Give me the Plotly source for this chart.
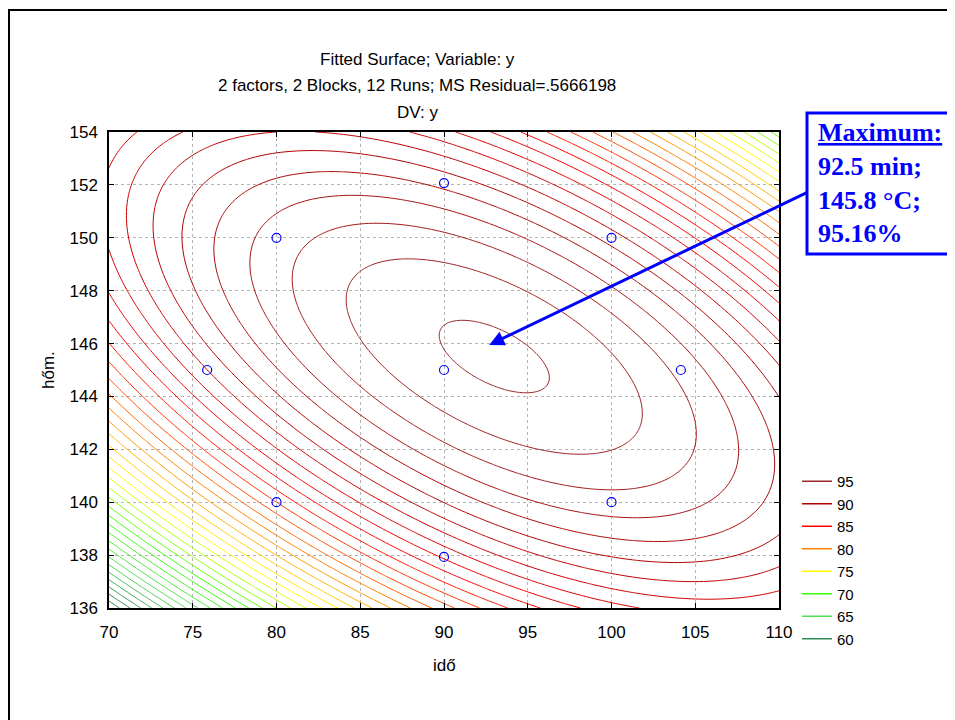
import numpy as np
import plotly.graph_objects as go

# Fitted quadratic surface, coefficients estimated from the reference contours
# z = b0 + b1*u + b2*v + b11*u^2 + b22*v^2 + b12*u*v, with u = ido - 90, v = hom - 145
b0, b1, b2 = 94.83, 0.16647, 0.31831
b11, b22, b12 = -0.02244, -0.12854, -0.06249
u_ref, v_ref = 90, 145

# design points (runs)
run_ido = [80, 80, 100, 100, 75.86, 104.14, 90, 90, 90]
run_hom = [140, 150, 140, 150, 145, 145, 137.93, 152.07, 145]

# legend levels and colours
lev_names = ["95", "90", "85", "80", "75", "70", "65", "60"]
lev_colors = ["#9a2a2a", "#b00000", "#ff0000", "#ff8000", "#ffff00", "#33ff00", "#55dd55", "#2e8b57"]

x_ticks = [70, 75, 80, 85, 90, 95, 100, 105, 110]
y_ticks = [136, 138, 140, 142, 144, 146, 148, 150, 152, 154]

xs = np.linspace(70, 110, 161)
ys = np.linspace(136, 154, 121)
UU, VV = np.meshgrid(xs - u_ref, ys - v_ref)
Z = b0 + b1*UU + b2*VV + b11*UU**2 + b22*VV**2 + b12*UU*VV

cs = [[0.0, lev_colors[7]], [5/35, lev_colors[6]], [10/35, lev_colors[5]], [15/35, lev_colors[4]],
      [20/35, lev_colors[3]], [25/35, lev_colors[2]], [30/35, lev_colors[1]], [1.0, lev_colors[0]]]

fig = go.Figure()
fig.add_trace(go.Contour(x=xs, y=ys, z=Z, contours=dict(start=50, end=95, size=1, coloring="lines"),
    colorscale=cs, zmin=60, zmax=95, zauto=False, showscale=False, line=dict(width=1),
    showlegend=False, hoverinfo="skip"))
fig.add_trace(go.Scatter(x=run_ido, y=run_hom, mode="markers",
    marker=dict(symbol="circle-open", size=9, color="#0000ff", line=dict(width=1.2)), showlegend=False))
for n, c in zip(lev_names, lev_colors):
    fig.add_trace(go.Scatter(x=[None], y=[None], mode="lines", line=dict(color=c, width=1.5), name=n))

O = 8  # page body margin offset
F = "Liberation Sans, Arial, sans-serif"
ax = dict(showline=True, linecolor="black", linewidth=1.5, mirror="ticks", ticks="inside", ticklen=5, tickcolor="black",
          showgrid=True, gridcolor="#b4b4b4", griddash="dot", gridwidth=1, zeroline=False,
          tickfont=dict(family=F, size=17, color="black"))
fig.update_xaxes(range=[70, 110], tickvals=x_ticks, ticklabelstandoff=8, **ax)
fig.update_yaxes(range=[136, 154], tickvals=y_ticks, ticklabelstandoff=6, **ax)

def px(xp): return (xp - 109) / 670
def py(yp): return (608 - yp) / 476

ann = []
for t, yp in [("Fitted Surface; Variable: y", 59),
              ("2 factors, 2 Blocks, 12 Runs; MS Residual=.5666198", 86),
              ("DV: y", 113)]:
    ann.append(dict(text=t, x=px(417), y=py(yp), xref="paper", yref="paper", showarrow=False,
                    font=dict(family=F, size=17, color="black"), xanchor="center", yanchor="middle"))
ann.append(dict(text="idő", x=px(444), y=py(665), xref="paper", yref="paper", showarrow=False,
                xanchor="center", yanchor="middle", font=dict(family=F, size=17, color="black")))
ann.append(dict(text="hőm.", x=px(48), y=py(370), xref="paper", yref="paper", showarrow=False,
                xanchor="center", yanchor="middle", textangle=-90, font=dict(family=F, size=17, color="black")))
ann.append(dict(text="", x=92.7, y=145.95, xref="x", yref="y", showarrow=True, arrowhead=2, arrowsize=1,
                arrowwidth=3, arrowcolor="#0000ff", ax=808-489, ay=192-345))
ann.append(dict(text="<b><u>Maximum:</u><br>92.5 min;<br>145.8 °C;<br>95.16%</b>", x=px(816), y=py(116),
                xref="paper", yref="paper", showarrow=False, xanchor="left", yanchor="top", align="left",
                font=dict(family="Liberation Serif, Times New Roman, serif", size=26, color="#0000ff")))

fig.update_layout(width=955-O, height=720-O, margin=dict(l=109-O, r=176, t=132-O, b=112),
    paper_bgcolor="white", plot_bgcolor="white", annotations=ann,
    legend=dict(x=px(797), y=py(465), xanchor="left", yanchor="top",
                font=dict(family=F, size=15, color="black"), itemwidth=30, bgcolor="rgba(0,0,0,0)"),
    shapes=[dict(type="rect", xref="paper", yref="paper", x0=px(807), x1=px(949), y0=py(254), y1=py(113),
                 line=dict(color="#0000ff", width=3), fillcolor="white", layer="below"),
            dict(type="rect", xref="paper", yref="paper", x0=px(9), x1=px(965), y0=py(730), y1=py(10),
                 line=dict(color="black", width=2))])
fig.write_html("out.html")
